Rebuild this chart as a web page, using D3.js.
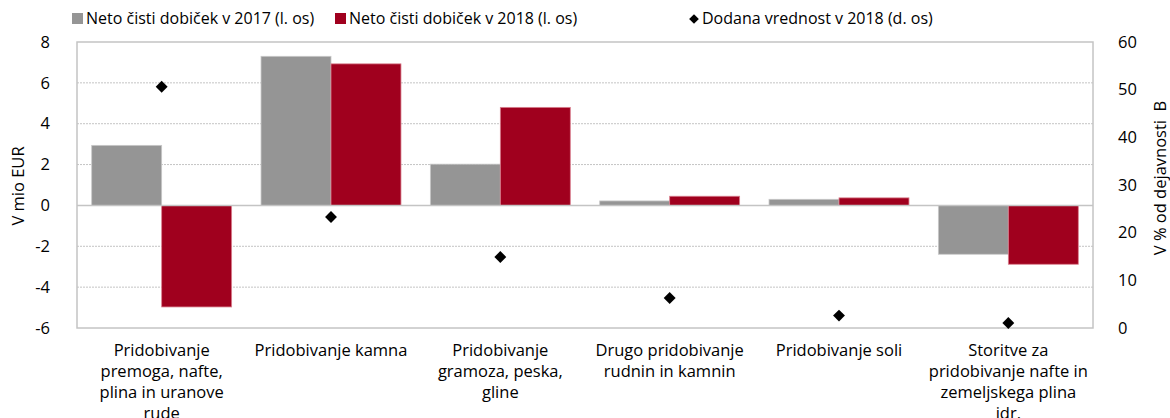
<!DOCTYPE html>
<html>
<head>
<meta charset="utf-8">
<script src="https://cdn.jsdelivr.net/npm/d3@7"></script>
<style>
  body { margin: 0; background: #fff; }
  text { font-family: "Open Sans", sans-serif; fill: #000; }
</style>
</head>
<body>
<div id="chart"></div>
<script>
// data
var categories = [
  ["Pridobivanje", "premoga, nafte,", "plina in uranove", "rude"],
  ["Pridobivanje kamna"],
  ["Pridobivanje", "gramoza, peska,", "gline"],
  ["Drugo pridobivanje", "rudnin in kamnin"],
  ["Pridobivanje soli"],
  ["Storitve za", "pridobivanje nafte in", "zemeljskega plina", "idr."]
];
var profit2017 = [2.94, 7.30, 2.02, 0.22, 0.30, -2.39];
var profit2018 = [-4.97, 6.93, 4.80, 0.45, 0.37, -2.88];
var valueAdded2018 = [50.6, 23.3, 14.9, 6.3, 2.6, 1.05];

var leftTicks = [-6, -4, -2, 0, 2, 4, 6, 8];
var rightTicks = [0, 10, 20, 30, 40, 50, 60];

var seriesNames = ["Neto čisti dobiček v 2017 (l. os)", "Neto čisti dobiček v 2018 (l. os)", "Dodana vrednost v 2018 (d. os)"];
var colors = ["#959595", "#A0001E", "#000000"];

var svgWidth = 1170;
var svgHeight = 418;
var margin = { top: 42, right: 77, bottom: 90, left: 77 };
var width = svgWidth - margin.left - margin.right;
var height = svgHeight - margin.top - margin.bottom;

var svg = d3.select("#chart")
  .append("svg")
  .attr("width", svgWidth)
  .attr("height", svgHeight);

var chartGroup = svg.append("g")
  .attr("transform", `translate(${margin.left}, ${margin.top})`);

var idx = d3.range(categories.length);

var xScale = d3.scaleBand()
  .domain(idx)
  .range([0, width]);

var xInner = d3.scaleBand()
  .domain([0, 1])
  .range([0, xScale.bandwidth()])
  .paddingOuter(0.21);

var yLeft = d3.scaleLinear().domain([-6, 8]).range([height, 0]);
var yRight = d3.scaleLinear().domain([0, 60]).range([height, 0]);

// gridlines (dotted)
chartGroup.append("g")
  .selectAll("line")
  .data(leftTicks.filter(d => d !== 0 && d !== 8 && d !== -6))
  .enter()
  .append("line")
  .attr("x1", 0)
  .attr("x2", width)
  .attr("y1", d => yLeft(d))
  .attr("y2", d => yLeft(d))
  .attr("stroke", "#c4c4c4")
  .attr("stroke-width", 1)
  .attr("stroke-dasharray", "2,1");

// bars
var series = [profit2017, profit2018];
var strokes = ["#c8c8c8", "#d9808f"];
series.forEach(function(vals, s) {
  chartGroup.append("g")
    .selectAll("rect")
    .data(vals)
    .enter()
    .append("rect")
    .attr("x", (d, i) => xScale(i) + xInner(s))
    .attr("width", xInner.bandwidth())
    .attr("y", d => yLeft(Math.max(0, d)))
    .attr("height", d => Math.abs(yLeft(d) - yLeft(0)))
    .attr("fill", colors[s])
    .attr("stroke", strokes[s])
    .attr("stroke-width", 0.8);
});

// zero line
chartGroup.append("line")
  .attr("x1", 0)
  .attr("x2", width)
  .attr("y1", yLeft(0))
  .attr("y2", yLeft(0))
  .attr("stroke", "#c4c4c4")
  .attr("stroke-width", 1.5);

// plot border
chartGroup.append("rect")
  .attr("x", 0)
  .attr("y", 0)
  .attr("width", width)
  .attr("height", height)
  .attr("fill", "none")
  .attr("stroke", "#c4c4c4")
  .attr("stroke-width", 1.5);

// diamonds
var diamond = d3.symbol().type(d3.symbolDiamond2).size(90);
chartGroup.append("g")
  .selectAll("path")
  .data(valueAdded2018)
  .enter()
  .append("path")
  .attr("d", diamond)
  .attr("transform", (d, i) => `translate(${xScale(i) + xScale.bandwidth() / 2}, ${yRight(d)})`)
  .attr("fill", "#000");

// left axis
var leftAxis = d3.axisLeft(yLeft).tickValues(leftTicks).tickSize(0).tickPadding(27)
  .tickFormat(d => String(d));
var leftG = chartGroup.append("g").call(leftAxis);
leftG.select(".domain").remove();
leftG.selectAll("text").style("font-size", "16.5px").style("font-family", "Open Sans");

// right axis
var rightAxis = d3.axisRight(yRight).tickValues(rightTicks).tickSize(0).tickPadding(25)
  .tickFormat(d => String(d));
var rightG = chartGroup.append("g")
  .attr("transform", `translate(${width}, 0)`)
  .call(rightAxis);
rightG.select(".domain").remove();
rightG.selectAll("text").style("font-size", "16.5px").style("font-family", "Open Sans");

// axis titles
svg.append("text")
  .attr("transform", "rotate(-90)")
  .attr("x", -186)
  .attr("y", 24)
  .attr("text-anchor", "middle")
  .style("font-size", "16.5px")
  .text("V mio EUR");

svg.append("text")
  .attr("transform", "rotate(-90)")
  .attr("x", -178)
  .attr("y", 1166)
  .attr("text-anchor", "middle")
  .style("font-size", "16.5px")
  .style("white-space", "pre")
  .text("V % od dejavnosti  B");

// category labels
var labelGroup = chartGroup.append("g")
  .attr("transform", `translate(0, ${height})`);
categories.forEach(function(lines, i) {
  var t = labelGroup.append("text")
    .attr("x", xScale(i) + xScale.bandwidth() / 2)
    .attr("y", 28)
    .attr("text-anchor", "middle")
    .style("font-size", "16.5px");
  lines.forEach(function(line, j) {
    t.append("tspan")
      .attr("x", xScale(i) + xScale.bandwidth() / 2)
      .attr("dy", j === 0 ? 0 : 21)
      .text(line);
  });
});

// legend
var legendX = [72, 335, 688];
var legend = svg.append("g");
seriesNames.forEach(function(name, s) {
  var g = legend.append("g").attr("transform", `translate(${legendX[s]}, 19)`);
  if (s < 2) {
    g.append("rect")
      .attr("x", 0)
      .attr("y", -6)
      .attr("width", 11)
      .attr("height", 11)
      .attr("fill", colors[s]);
  } else {
    g.append("path")
      .attr("d", d3.symbol().type(d3.symbolDiamond2).size(60))
      .attr("transform", "translate(6, 0)")
      .attr("fill", "#000");
  }
  g.append("text")
    .attr("x", 14)
    .attr("y", 5)
    .style("font-size", "16px")
    .text(name);
});
</script>
</body>
</html>
